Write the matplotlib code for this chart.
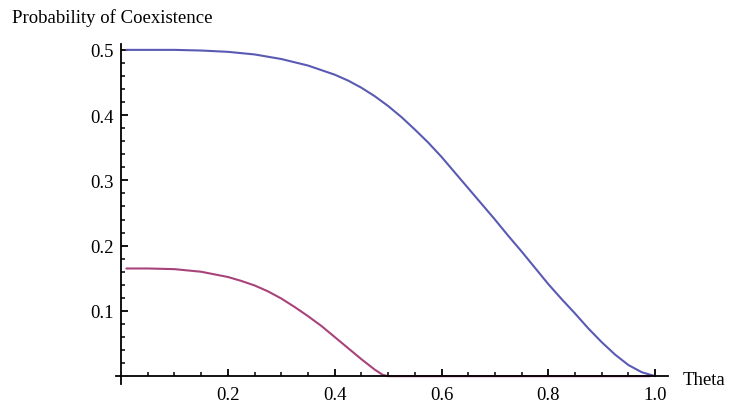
import matplotlib
matplotlib.use("Agg")
import matplotlib.pyplot as plt
from matplotlib.ticker import FixedLocator

# Data
theta_blue = [0.01, 0.05, 0.10, 0.15, 0.20, 0.25, 0.30, 0.35, 0.40, 0.425, 0.45, 0.475,
              0.50, 0.525, 0.55, 0.575, 0.60, 0.625, 0.65, 0.675, 0.70, 0.725, 0.75,
              0.775, 0.80, 0.825, 0.85, 0.875, 0.90, 0.925, 0.95, 0.975, 1.00]
p_blue = [0.500, 0.500, 0.500, 0.499, 0.497, 0.493, 0.486, 0.476, 0.462, 0.453, 0.442, 0.429,
          0.414, 0.397, 0.378, 0.358, 0.336, 0.312, 0.288, 0.264, 0.240, 0.215, 0.191,
          0.166, 0.141, 0.118, 0.096, 0.073, 0.052, 0.033, 0.017, 0.006, 0.000]

theta_red = [0.01, 0.05, 0.10, 0.125, 0.15, 0.175, 0.20, 0.225, 0.25, 0.275, 0.30, 0.325,
             0.35, 0.375, 0.40, 0.425, 0.45, 0.475, 0.49, 0.50, 0.75, 0.99]
p_red = [0.165, 0.165, 0.164, 0.162, 0.160, 0.156, 0.152, 0.146, 0.139, 0.130, 0.119, 0.106,
         0.092, 0.077, 0.060, 0.043, 0.026, 0.010, 0.002, 0.000, 0.000, 0.000]

x_ticks = [0.2, 0.4, 0.6, 0.8, 1.0]
x_ticklabels = ["0.2", "0.4", "0.6", "0.8", "1.0"]
y_ticks = [0.1, 0.2, 0.3, 0.4, 0.5]
y_ticklabels = ["0.1", "0.2", "0.3", "0.4", "0.5"]

x_label = "Theta"
y_label = "Probability of Coexistence"

FONT = ["Liberation Serif", "DejaVu Serif"]
plt.rcParams['font.family'] = FONT
FS = 13.5

fig = plt.figure(figsize=(7.33, 4.10), dpi=100)
ax = fig.add_axes([115.7 / 733, 25 / 410, (668 - 115.7) / 733, (385 - 45) / 410])

ax.plot(theta_blue, p_blue, color="#5a5ab4", lw=1.5, solid_capstyle="round",
        solid_joinstyle="round")
ax.plot(theta_red, p_red, color="#a8437a", lw=1.5, solid_capstyle="round",
        solid_joinstyle="round")

ax.set_xlim(-0.01, 1.024)
ax.set_ylim(-0.012, 0.509)

for s in ("top", "right"):
    ax.spines[s].set_visible(False)
ax.spines["left"].set_position(("data", 0))
ax.spines["bottom"].set_position(("data", 0))
ax.spines["left"].set_linewidth(1.3)
ax.spines["bottom"].set_linewidth(1.3)

ax.xaxis.set_major_locator(FixedLocator(x_ticks))
ax.set_xticklabels(x_ticklabels)
ax.xaxis.set_minor_locator(FixedLocator([i * 0.05 for i in range(1, 20) if i % 4 != 0]))
ax.yaxis.set_major_locator(FixedLocator(y_ticks))
ax.set_yticklabels(y_ticklabels)
ax.yaxis.set_minor_locator(FixedLocator([i * 0.02 for i in range(1, 25) if i % 5 != 0]))

ax.tick_params(which="major", direction="in", length=5, width=1.3, labelsize=FS, pad=7)
ax.tick_params(which="minor", direction="in", length=3, width=1.1)
ax.tick_params(axis="y", pad=5)

fig.text(12 / 733, 1 - 23 / 410, y_label, fontsize=FS, ha="left", va="baseline")
fig.text(683 / 733, 1 - 381 / 410, x_label, fontsize=FS, ha="left", va="center")

fig.savefig("out.png", dpi=100)
